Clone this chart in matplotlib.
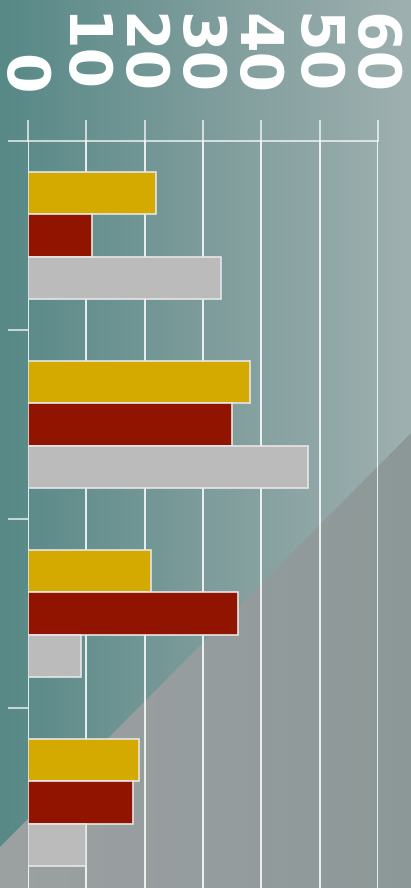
import numpy as np
import matplotlib
matplotlib.use("Agg")
import matplotlib.pyplot as plt
from matplotlib.patches import Polygon
from matplotlib.colors import LinearSegmentedColormap
from matplotlib.transforms import ScaledTranslation

# data
groups = ["A", "B", "C", "D"]
gold_vals = [22, 38, 21, 19]
red_vals = [11, 35, 36, 18]
gray_vals = [33, 48, 9, 10]
xticks = [0, 10, 20, 30, 40, 50, 60]

W, H, DPI = 411, 888, 100
fig = plt.figure(figsize=(W / DPI, H / DPI), dpi=DPI)

# background: teal -> grey gradient, plus a darker grey corner
bg = fig.add_axes([0, 0, 1, 1])
bg.set_xlim(0, 1)
bg.set_ylim(0, 1)
bg.axis("off")
grad = np.linspace(0, 1, 256).reshape(1, -1)
bg_cmap = LinearSegmentedColormap.from_list("bg", ["#578987", "#7d9c9b", "#9fb0b0"])
bg.imshow(grad, cmap=bg_cmap, extent=[0, 1, 0, 1], aspect="auto", zorder=0)

tri_cmap = LinearSegmentedColormap.from_list("tri", ["#9ca1a1", "#969d9e", "#8c9897"])
tri_img = bg.imshow(grad, cmap=tri_cmap, extent=[0, 1, 0, 1], aspect="auto", zorder=1)
tri = Polygon([(0, 0), (0, 41 / H), (1, 455 / H), (1, 0)], closed=True,
              transform=bg.transAxes, facecolor="none", edgecolor="none")
bg.add_patch(tri)
tri_img.set_clip_path(tri)

# main chart
ax = fig.add_axes([28 / W, 1 - 897 / H, 350 / W, 756 / H])
ax.patch.set_alpha(0)

y = np.arange(len(groups))
h = 0.224
edge = "#e6e6e6"
ax.barh(y - h, gold_vals, height=h, color="#d4a900", edgecolor=edge, linewidth=1.2, zorder=3)
ax.barh(y, red_vals, height=h, color="#901400", edgecolor=edge, linewidth=1.2, zorder=3)
ax.barh(y + h, gray_vals, height=h, color="#bbbbbb", edgecolor=edge, linewidth=1.2, zorder=3)

ax.set_xlim(0, 60)
ax.set_ylim(len(groups) - 0.5, -0.5)

line_col = (1, 1, 1, 0.8)
ax.xaxis.tick_top()
ax.set_xticks(xticks)
ax.set_xticklabels([str(t) for t in xticks], rotation=-90, fontsize=42,
                   fontweight="bold", color="white")
ax.tick_params(axis="x", direction="out", length=15, width=1.2, color=line_col, pad=18.5)
ax.grid(axis="x", color=line_col, linewidth=1.2, zorder=1)

# nudge the rotated labels left so they sit centred on their ticks
shift = ScaledTranslation(-7 / DPI, 0, fig.dpi_scale_trans)
for lab in ax.get_xticklabels():
    lab.set_transform(lab.get_transform() + shift)

ax.set_yticks(np.arange(len(groups) + 1) - 0.5)
ax.set_yticklabels([])
ax.tick_params(axis="y", direction="out", length=14.5, width=1.2, color=line_col)

for side in ["left", "right", "bottom"]:
    ax.spines[side].set_visible(False)
ax.spines["top"].set_color(line_col)
ax.spines["top"].set_linewidth(1.2)

fig.savefig("out.png", dpi=DPI)
